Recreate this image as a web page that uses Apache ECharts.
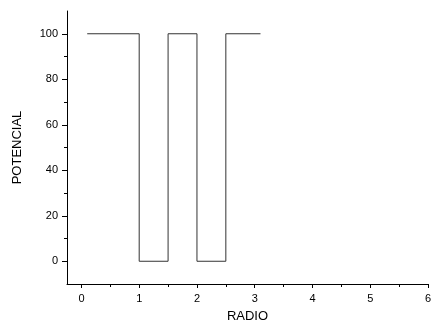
<!DOCTYPE html>
<html><head><meta charset="utf-8">
<script src="https://cdn.jsdelivr.net/npm/echarts@6/dist/echarts.min.js"></script>
<style>html,body{margin:0;padding:0;background:#fff}#c{width:433px;height:323px}</style>
</head><body><div id="c"></div>
<script>
var radio = [0.1, 1, 1, 1.5, 1.5, 2, 2, 2.5, 2.5, 3.1];
var potencial = [100, 100, 0, 0, 100, 100, 0, 0, 100, 100];
var xTicks = [0, 1, 2, 3, 4, 5, 6];
var xMinorTicks = [0.5, 1.5, 2.5, 3.5, 4.5, 5.5];
var yTicks = [0, 20, 40, 60, 80, 100];
var yMinorTicks = [10, 30, 50, 70, 90];

var chart = echarts.init(document.getElementById('c'), null, {renderer: 'canvas'});
var font = 'Liberation Sans, Arial, sans-serif';
var grid = {left: 67, right: 5, top: 11, bottom: 39, outerBoundsMode: 'none', containLabel: false};
var xBase = {type: 'value', min: -0.25, max: 6, interval: 0.25, splitLine: {show: false}};
var yBase = {type: 'value', min: -10, max: 110, interval: 10, splitLine: {show: false}};
chart.setOption({
  animation: false,
  grid: grid,
  xAxis: [Object.assign({}, xBase, {
    name: 'RADIO', nameLocation: 'middle', nameGap: 26,
    nameTextStyle: {fontFamily: font, fontSize: 13, color: '#000'},
    axisLine: {show: true, onZero: false, lineStyle: {color: '#000', width: 1}},
    axisTick: {show: true, inside: false, length: 4, lineStyle: {color: '#000'},
      customValues: xTicks},
    axisLabel: {fontFamily: font, fontSize: 11, color: '#000', margin: 9,
      customValues: xTicks, formatter: function(v){return String(v);}}
  }), Object.assign({}, xBase, {
    position: 'bottom',
    axisLine: {show: false, onZero: false},
    axisTick: {show: true, inside: false, length: 3, lineStyle: {color: '#000'},
      customValues: xMinorTicks},
    axisLabel: {show: false}
  })],
  yAxis: [Object.assign({}, yBase, {
    name: 'POTENCIAL', nameLocation: 'middle', nameGap: 43,
    nameTextStyle: {fontFamily: font, fontSize: 13, color: '#000'},
    axisLine: {show: true, onZero: false, lineStyle: {color: '#000', width: 1}},
    axisTick: {show: true, inside: false, length: 5, lineStyle: {color: '#000'},
      customValues: yTicks},
    axisLabel: {fontFamily: font, fontSize: 11, color: '#000', margin: 9,
      customValues: yTicks}
  }), Object.assign({}, yBase, {
    position: 'left',
    axisLine: {show: false, onZero: false},
    axisTick: {show: true, inside: false, length: 3, lineStyle: {color: '#000'},
      customValues: yMinorTicks},
    axisLabel: {show: false}
  })],
  series: [{
    type: 'line',
    xAxisIndex: 0, yAxisIndex: 0,
    data: radio.map(function(x, i){return [x, potencial[i]];}),
    showSymbol: false, symbol: 'none',
    lineStyle: {color: '#333', width: 1}
  }]
});
</script></body></html>
